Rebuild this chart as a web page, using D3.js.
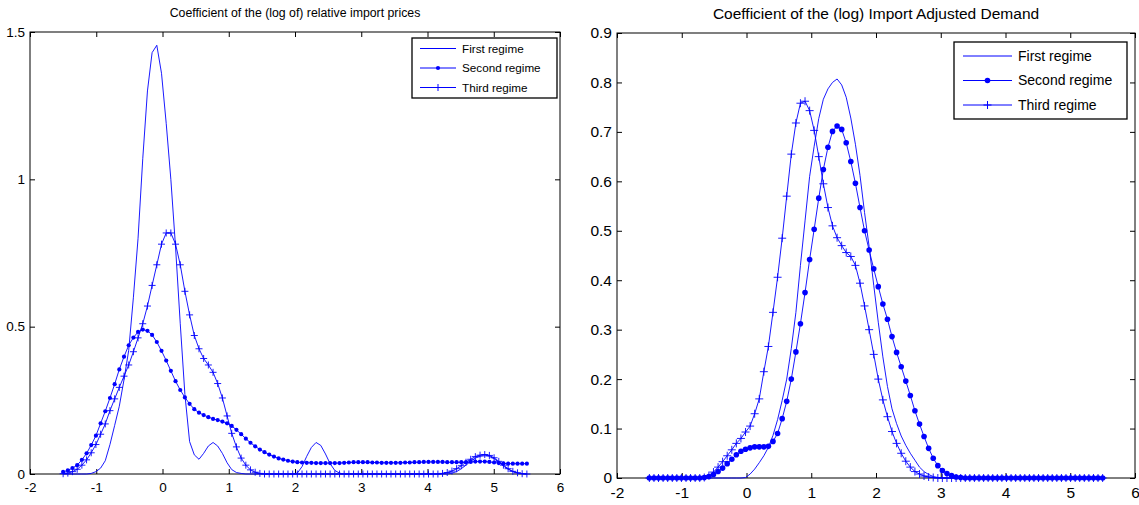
<!DOCTYPE html>
<html><head><meta charset="utf-8">
<script src="https://cdn.jsdelivr.net/npm/d3@7"></script>
<style>
body{margin:0;background:#fff}
svg{display:block}
text{font-family:"Liberation Sans", Arial, sans-serif; fill:#000}
</style>
</head><body>
<svg id="c" width="1139" height="505"></svg>
<script>
// evaluation grid (x values of every point, both panels)
const xGrid = [
-1.500,-1.429,-1.359,-1.288,-1.217,-1.146,-1.076,-1.005,-0.934,-0.864,
-0.793,-0.722,-0.652,-0.581,-0.510,-0.439,-0.369,-0.298,-0.227,-0.157,
-0.086,-0.015,0.056,0.126,0.197,0.268,0.338,0.409,0.480,0.551,
0.621,0.692,0.763,0.833,0.904,0.975,1.045,1.116,1.187,1.258,
1.328,1.399,1.470,1.540,1.611,1.682,1.753,1.823,1.894,1.965,
2.035,2.106,2.177,2.247,2.318,2.389,2.460,2.530,2.601,2.672,
2.742,2.813,2.884,2.955,3.025,3.096,3.167,3.237,3.308,3.379,
3.449,3.520,3.591,3.662,3.732,3.803,3.874,3.944,4.015,4.086,
4.157,4.227,4.298,4.369,4.439,4.510,4.581,4.652,4.722,4.793,
4.864,4.934,5.005,5.076,5.146,5.217,5.288,5.359,5.429,5.500];

const seriesNames = ["First regime", "Second regime", "Third regime"];

// Left panel: coefficient of the (log of) relative import prices
const pricesFirst = [
0,0,0,0,0,0,0.002,0.008,0.02,0.045,
0.1,0.165,0.23,0.32,0.42,0.6,0.8,1.07,1.3,1.43,
1.455,1.36,1.19,1.0,0.77,0.51,0.27,0.11,0.065,0.05,
0.07,0.095,0.107,0.095,0.07,0.038,0.015,0.005,0.002,0,
0,0,0,0,0,0,0,0,0,0,
0.003,0.025,0.06,0.09,0.107,0.097,0.068,0.035,0.012,0.003,
0,0,0,0,0,0,0,0,0,0,
0,0,0,0,0,0,0,0,0,0,
0,0,0,0.003,0.008,0.018,0.03,0.043,0.054,0.06,
0.062,0.06,0.052,0.04,0.027,0.016,0.008,0.003,0.001,0];
const pricesSecond = [
0.007,0.012,0.02,0.03,0.048,0.07,0.098,0.13,0.172,0.213,
0.258,0.305,0.355,0.398,0.437,0.463,0.482,0.49,0.486,0.472,
0.448,0.418,0.385,0.35,0.315,0.285,0.26,0.238,0.22,0.208,
0.2,0.193,0.187,0.183,0.178,0.172,0.163,0.15,0.135,0.12,
0.106,0.094,0.083,0.074,0.066,0.059,0.053,0.049,0.045,0.042,
0.04,0.039,0.038,0.038,0.037,0.037,0.037,0.037,0.037,0.037,
0.038,0.039,0.04,0.04,0.04,0.04,0.039,0.039,0.038,0.038,
0.038,0.038,0.038,0.039,0.039,0.04,0.04,0.041,0.041,0.041,
0.041,0.041,0.04,0.04,0.04,0.04,0.04,0.041,0.042,0.042,
0.042,0.041,0.039,0.037,0.036,0.035,0.035,0.035,0.035,0.035];
const pricesThird = [
0.001,0.003,0.008,0.016,0.03,0.048,0.072,0.1,0.135,0.17,
0.215,0.255,0.294,0.332,0.37,0.415,0.462,0.51,0.57,0.64,
0.71,0.78,0.818,0.818,0.78,0.71,0.62,0.54,0.47,0.425,
0.392,0.37,0.345,0.307,0.258,0.197,0.138,0.092,0.054,0.03,
0.014,0.006,0.002,0,0,0,0,0,0,0,
0,0,0,0,0,0,0,0,0,0,
0,0,0,0,0,0,0,0,0,0,
0,0,0,0,0,0,0,0,0,0,
0,0.002,0.005,0.01,0.018,0.028,0.04,0.05,0.059,0.064,
0.066,0.063,0.055,0.043,0.03,0.018,0.009,0.004,0.001,0];

// Right panel: coefficient of the (log) import adjusted demand
const demandFirst = [
0,0,0,0,0,0,0,0,0,0,
0,0,0,0,0,0,0,0,0,0,
0,0.001,0.008,0.018,0.031,0.045,0.062,0.086,0.118,0.157,
0.2,0.262,0.335,0.43,0.52,0.61,0.671,0.727,0.766,0.787,
0.8,0.807,0.795,0.77,0.728,0.675,0.612,0.537,0.468,0.39,
0.315,0.245,0.185,0.14,0.11,0.085,0.066,0.05,0.036,0.022,
0.013,0.007,0.003,0.001,0,0,0,0,0,0,
0,0,0,0,0,0,0,0,0,0,
0,0,0,0,0,0,0,0,0,0,
0,0,0,0,0,0,0,0,0,0];
const demandSecond = [
0,0,0,0,0,0,0,0,0,0,
0,0,0.001,0.003,0.007,0.013,0.02,0.029,0.038,0.047,
0.054,0.058,0.061,0.063,0.063,0.063,0.064,0.074,0.09,0.12,
0.155,0.2,0.255,0.312,0.375,0.442,0.503,0.566,0.624,0.669,
0.701,0.712,0.705,0.678,0.64,0.596,0.547,0.5,0.461,0.423,
0.387,0.352,0.321,0.286,0.254,0.225,0.196,0.167,0.136,0.109,
0.084,0.06,0.04,0.025,0.015,0.009,0.005,0.002,0.001,0,
0,0,0,0,0,0,0,0,0,0,
0,0,0,0,0,0,0,0,0,0,
0,0,0,0,0,0,0,0,0,0];
const demandThird = [
0,0,0,0,0,0,0,0,0,0,
0,0,0.001,0.005,0.012,0.022,0.033,0.045,0.057,0.07,
0.08,0.093,0.105,0.13,0.16,0.215,0.266,0.335,0.406,0.485,
0.57,0.655,0.718,0.758,0.762,0.743,0.703,0.65,0.595,0.547,
0.51,0.486,0.47,0.456,0.448,0.43,0.394,0.348,0.3,0.25,
0.2,0.158,0.124,0.094,0.07,0.05,0.034,0.022,0.013,0.008,
0.004,0.002,0.001,0,0,0,0,0,0,0,
0,0,0,0,0,0,0,0,0,0,
0,0,0,0,0,0,0,0,0,0,
0,0,0,0,0,0,0,0,0,0];

const xTicks = [-2,-1,0,1,2,3,4,5,6];
const xTickLabels = ["-2","-1","0","1","2","3","4","5","6"];
const pricesYTicks = [0,0.5,1,1.5];
const pricesYTickLabels = ["0","0.5","1","1.5"];
const demandYTicks = [0,0.1,0.2,0.3,0.4,0.5,0.6,0.7,0.8,0.9];
const demandYTickLabels = ["0","0.1","0.2","0.3","0.4","0.5","0.6","0.7","0.8","0.9"];

const BLUE = "#0000ff";
const svg = d3.select("#c");

function panel(o){
  const g = svg.append("g");
  const x = d3.scaleLinear().domain([-2,6]).range([o.left,o.right]);
  const y = d3.scaleLinear().domain([0,o.yMax]).range([o.bottom,o.top]);

  // axes (ticks point inward, MATLAB style)
  const ax = (gen, tr, labels) => {
    const a = g.append("g").attr("transform", tr).call(gen);
    a.attr("font-size", null);
    a.select(".domain").remove();
    a.selectAll(".tick line").attr("stroke","#000").attr("stroke-width",1);
    a.selectAll("text").style("font-size", o.tickFont+"px").attr("fill","#000");
    if(!labels) a.selectAll("text").remove();
    return a;
  };
  ax(d3.axisBottom(x).tickValues(xTicks).tickFormat((d,i)=>xTickLabels[i]).tickSizeInner(-o.tick).tickSizeOuter(0).tickPadding(o.xPad),
     `translate(0,${o.bottom})`, true);
  ax(d3.axisTop(x).tickValues(xTicks).tickSizeInner(-o.tick).tickSizeOuter(0), `translate(0,${o.top})`, false);
  ax(d3.axisLeft(y).tickValues(o.yTicks).tickFormat((d,i)=>o.yTickLabels[i]).tickSizeInner(-o.tick).tickSizeOuter(0).tickPadding(o.yPad),
     `translate(${o.left},0)`, true);
  ax(d3.axisRight(y).tickValues(o.yTicks).tickSizeInner(-o.tick).tickSizeOuter(0), `translate(${o.right},0)`, false);

  g.append("rect").attr("x",o.left).attr("y",o.top).attr("width",o.right-o.left).attr("height",o.bottom-o.top)
    .attr("fill","none").attr("stroke","#000").attr("stroke-width",1);

  g.append("text").attr("x",(o.left+o.right)/2).attr("y",o.titleY).attr("text-anchor","middle")
    .style("font-size",o.titleFont+"px").text(o.title);

  const line = d3.line().x((d,i)=>x(xGrid[i])).y(d=>y(d));
  const ps = o.plus/2;
  o.series.forEach((s,k)=>{
    g.append("path").datum(s).attr("d",line).attr("fill","none").attr("stroke",BLUE).attr("stroke-width",0.9);
    if(k===1){
      g.append("g").selectAll("circle").data(s).join("circle")
        .attr("cx",(d,i)=>x(xGrid[i])).attr("cy",d=>y(d)).attr("r",o.dot).attr("fill",BLUE);
    } else if(k===2){
      g.append("g").selectAll("path").data(s).join("path")
        .attr("d",(d,i)=>{const cx=x(xGrid[i]), cy=y(d); return `M${cx-ps},${cy}H${cx+ps}M${cx},${cy-ps}V${cy+ps}`;})
        .attr("stroke",BLUE).attr("stroke-width",0.9).attr("fill","none");
    }
  });

  // legend
  const L = o.legend;
  g.append("rect").attr("x",L.x).attr("y",L.y).attr("width",L.w).attr("height",L.h)
    .attr("fill","#fff").attr("stroke","#000").attr("stroke-width",1.3);
  seriesNames.forEach((nm,k)=>{
    const yy = L.y + L.row0 + k*L.dy;
    g.append("line").attr("x1",L.x+L.l0).attr("x2",L.x+L.l1).attr("y1",yy).attr("y2",yy)
      .attr("stroke",BLUE).attr("stroke-width",1);
    const mx = L.x+(L.l0+L.l1)/2;
    if(k===1) g.append("circle").attr("cx",mx).attr("cy",yy).attr("r",o.dot).attr("fill",BLUE);
    if(k===2) g.append("path").attr("d",`M${mx-ps},${yy}H${mx+ps}M${mx},${yy-ps}V${yy+ps}`).attr("stroke",BLUE).attr("stroke-width",1);
    g.append("text").attr("x",L.x+L.tx).attr("y",yy).attr("dy","0.35em").style("font-size",L.font+"px").text(nm);
  });
}

panel({left:30,right:560,top:32,bottom:474,yMax:1.5,yTicks:pricesYTicks,yTickLabels:pricesYTickLabels,
  tick:5,tickFont:13.5,xPad:8,yPad:5,title:"Coefficient of the (log of) relative import prices",titleY:17,titleFont:12.3,
  series:[pricesFirst,pricesSecond,pricesThird],dot:2.1,plus:7,
  legend:{x:412,y:38,w:145,h:60,row0:10.5,dy:19.5,l0:8,l1:44,tx:50,font:11.7}});

panel({left:617,right:1135,top:33,bottom:478,yMax:0.9,yTicks:demandYTicks,yTickLabels:demandYTickLabels,
  tick:5,tickFont:15.5,xPad:9,yPad:5,title:"Coefficient of the (log) Import Adjusted Demand",titleY:19,titleFont:15.5,
  series:[demandFirst,demandSecond,demandThird],dot:2.8,plus:8,
  legend:{x:954,y:42,w:173,h:77,row0:14,dy:24.5,l0:9,l1:58,tx:64,font:14}});
</script>
</body></html>
